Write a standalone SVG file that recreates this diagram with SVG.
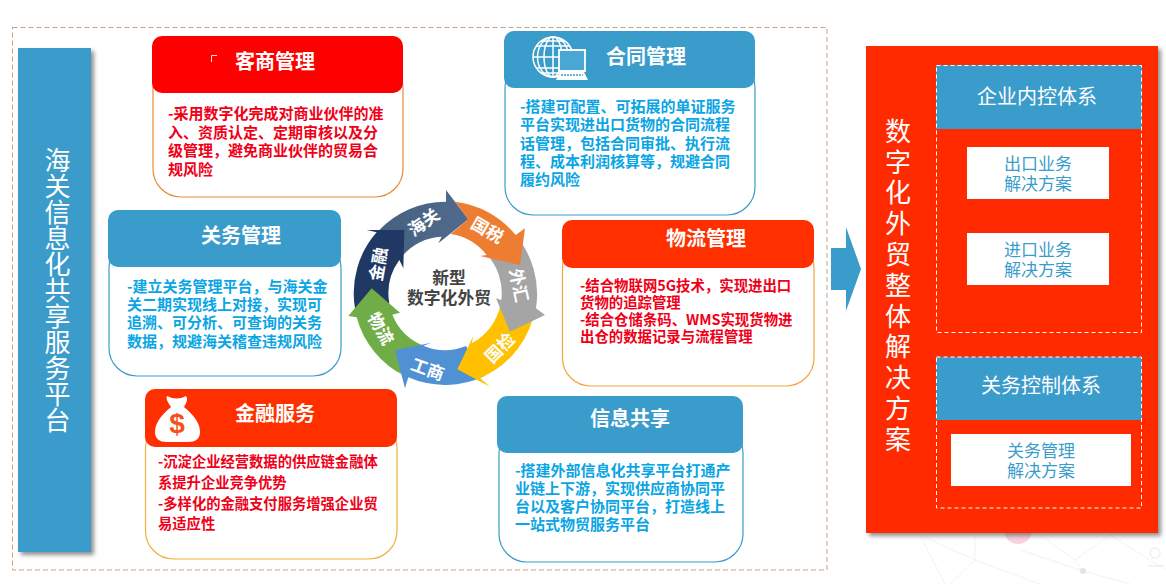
<svg xmlns="http://www.w3.org/2000/svg" width="1166" height="584" viewBox="0 0 1166 584">
<defs>
<filter id="sh" x="-10%" y="-10%" width="125%" height="125%"><feDropShadow dx="3" dy="3" stdDeviation="2" flood-color="#555" flood-opacity=".65"/></filter>
<linearGradient id="slate" x1="0" y1="0" x2="1" y2="0"><stop offset="0" stop-color="#47607f"/><stop offset="1" stop-color="#4f6b8e"/></linearGradient>
</defs>
<style>
text{font-family:"Noto Sans CJK SC","Noto Sans",sans-serif}
.hd{stroke:none}
.red{fill:#ff0000}.ora{fill:#ff2f00}.blu{fill:#3a9ccb}
.bd{fill:#fff;stroke-width:1.2}
.t{font-size:20px;font-weight:700;fill:#fff;text-anchor:middle;dominant-baseline:central}
.b{font-size:15px;font-weight:700;dominant-baseline:central}
.br{fill:#f00018}.bb{fill:#0aa5e4}
.w{font-size:17px;font-weight:700;fill:#fff;text-anchor:middle;dominant-baseline:central}
.c{font-size:16.8px;font-weight:700;fill:#444;text-anchor:middle;dominant-baseline:central}
.h{font-size:20px;fill:#fff;text-anchor:middle;dominant-baseline:central}
.s{font-size:17px;fill:#3a9ccb;text-anchor:middle;dominant-baseline:central}
.v{fill:#fff;text-anchor:start;writing-mode:vertical-rl}
.dash{fill:none;stroke:#fff;stroke-width:1;stroke-dasharray:4 3}
.wm{fill:none;stroke:#f9eff2;stroke-width:1}
</style>
<rect width="1166" height="584" fill="#fff"/>
<g id="watermark">
<path class="wm" d="M920 535L945 584M920 535L975 560L950 584M975 530L975 560L1040 584M1040 535L1075 560L1083 571L1130 584M1075 560L1110 535M1110 535L1166 570M1020 550L1083 571"/>
<circle cx="1018" cy="530" r="14" fill="#f9d2df"/>
<circle cx="1083" cy="571" r="3" fill="#e6e3e6"/>
<path d="M1150 553a5 5 0 1 1 10 0a5 5 0 1 1-10 0M1148 566h16" fill="none" stroke="#f1f0f0" stroke-width="1.5"/>
</g>
<rect id="frame" x="12.5" y="27.5" width="814.5" height="542.5" fill="none" stroke="#c8a284" stroke-width="1" stroke-dasharray="5 3"/>
<g id="platform">
<rect x="18" y="48" width="73" height="504" fill="#3a9ccb" filter="url(#sh)"/>
<text class="v" x="57.500" y="147" style="font-size:26px">海关信息化共享服务平台</text>
</g>
<g id="card-kehu">
<rect class="bd" x="153" y="60" width="250" height="137" rx="28" stroke="#e88b3c"/>
<rect class="hd red" x="152" y="36" width="251" height="57" rx="10"/>
<path d="M217 55.500H211.500V62" fill="none" stroke="#ffe0d8" stroke-width="1"/>
<text class="t" x="275" y="60.500">客商管理</text>
<text class="b br" x="168"><tspan x="168" y="111.500">-采用数字化完成对商业伙伴的准</tspan><tspan x="168" y="130.500">入、资质认定、定期审核以及分</tspan><tspan x="168" y="149">级管理，避免商业伙伴的贸易合</tspan><tspan x="168" y="167.500">规风险</tspan></text>
</g>
<g id="card-hetong">
<rect class="bd" x="505" y="60" width="250" height="155" rx="28" stroke="#3a9ccb"/>
<rect class="hd blu" x="504" y="31" width="251" height="57" rx="10"/>
<g fill="none" stroke="#fff" stroke-width="1.500">
<circle cx="553" cy="57" r="20"/><ellipse cx="553" cy="57" rx="9" ry="20"/><ellipse cx="553" cy="57" rx="15.500" ry="20"/><path d="M553 37V77M533 57H573M536 46H570M536 68H570M541 41H565M541 73H565"/>
</g>
<path d="M559 50H585V71H559Z" fill="#4aa6d2" stroke="#fff" stroke-width="1.800"/>
<path d="M560 72H584L588 80H556Z" fill="#fff"/>
<path d="M561 75H583" stroke="#3a9ccb" stroke-width="1.500" stroke-dasharray="2 1"/>
<text class="t" x="646" y="55.500">合同管理</text>
<text class="b bb" x="520"><tspan x="520" y="104.500">-搭建可配置、可拓展的单证服务</tspan><tspan x="520" y="122.500">平台实现进出口货物的合同流程</tspan><tspan x="520" y="141.500">话管理，包括合同审批、执行流</tspan><tspan x="520" y="159.500">程、成本利润核算等，规避合同</tspan><tspan x="520" y="177.500">履约风险</tspan></text>
</g>
<g id="card-guanwu">
<rect class="bd" x="109" y="240" width="232" height="136" rx="28" stroke="#3a9ccb"/>
<rect class="hd blu" x="108" y="210" width="233" height="57" rx="10"/>
<text class="t" x="241" y="234.500">关务管理</text>
<text class="b bb" x="127"><tspan x="127" y="284.500">-建立关务管理平台，与海关金</tspan><tspan x="127" y="302.500">关二期实现线上对接，实现可</tspan><tspan x="127" y="320.500">追溯、可分析、可查询的关务</tspan><tspan x="127" y="339.500">数据，规避海关稽查违规风险</tspan></text>
</g>
<g id="card-wuliu">
<rect class="bd" x="562.500" y="240" width="251.500" height="146" rx="28" stroke="#f2a73a"/>
<rect class="hd ora" x="562" y="220" width="252" height="48" rx="10"/>
<text class="t" x="706" y="237.500">物流管理</text>
<text class="b br" x="580" style="font-size:14.400px"><tspan x="580" y="283.500">-结合物联网5G技术，实现进出口</tspan><tspan x="580" y="300.500">货物的追踪管理</tspan><tspan x="580" y="317.500">-结合仓储条码、WMS实现货物进</tspan><tspan x="580" y="334.500">出仓的数据记录与流程管理</tspan></text>
</g>
<g id="card-jinrong">
<rect class="bd" x="145.500" y="420" width="251.500" height="139" rx="28" stroke="#f2b03c"/>
<rect class="hd ora" x="145" y="389" width="252" height="58" rx="10"/>
<path d="M167 396Q177 401 186 396Q189 399 184 407Q200 420 200 432Q200 442 188 442H167Q155 442 155 432Q155 420 171 407Q165 399 167 396Z" fill="#fff"/>
<text x="177" y="423" style="font-family:'Liberation Sans',sans-serif;font-size:28px;font-weight:700;fill:#f4511e;text-anchor:middle;dominant-baseline:central">$</text>
<text class="t" x="275" y="412.500">金融服务</text>
<text class="b br" x="158" style="font-size:14.300px"><tspan x="158" y="459.500">-沉淀企业经营数据的供应链金融体</tspan><tspan x="158" y="480.500">系提升企业竞争优势</tspan><tspan x="158" y="501.500">-多样化的金融支付服务增强企业贸</tspan><tspan x="158" y="521.500">易适应性</tspan></text>
</g>
<g id="card-xinxi">
<rect class="bd" x="499" y="425" width="244" height="137" rx="28" stroke="#3a9ccb"/>
<rect class="hd blu" x="497" y="396" width="246" height="57" rx="10"/>
<text class="t" x="630" y="417.500">信息共享</text>
<text class="b bb" x="515"><tspan x="515" y="468.500">-搭建外部信息化共享平台打通产</tspan><tspan x="515" y="486.500">业链上下游，实现供应商协同平</tspan><tspan x="515" y="504.500">台以及客户协同平台，打造线上</tspan><tspan x="515" y="522.500">一站式物贸服务平台</tspan></text>
</g>
<g id="wheel">
<g transform="translate(340 180) scale(.33333)">
<path fill="url(#slate)" d="M118 150A275 275 0 0 1 318 65L318 30L385 118L295 190L305 170A170 170 0 0 0 185 230Z"/>
<path fill="#203864" d="M45 385A275 275 0 0 1 110 157L80 150L193 150L190 265L178 240A170 170 0 0 0 148 370Z"/>
<path fill="#70ad47" d="M195 588A275 275 0 0 1 50 412L25 408L95 325L180 398L157 404A170 170 0 0 0 250 497Z"/>
<path fill="#5091d3" d="M435 587A275 275 0 0 1 205 592L195 625L165 510L275 488L250 497A170 170 0 0 0 378 498Z"/>
<path fill="#ffc000" d="M587 375A275 275 0 0 1 420 594L450 620L352 568L400 468L395 490A170 170 0 0 0 482 372Z"/>
<path fill="#a5a5a5" d="M525 163A275 275 0 0 1 588 385L615 405L510 455L468 355L484 360A170 170 0 0 0 435 218Z"/>
<path fill="#ed7d31" d="M345 65A275 275 0 0 1 527 165L555 145L540 255L420 228L440 225A170 170 0 0 0 332 162L385 118Z"/>
</g>
<text class="w" transform="translate(423 221) rotate(-35)">海关</text>
<text class="w" transform="translate(488 229) rotate(30)">国税</text>
<text class="w" transform="translate(520 285) rotate(78)">外汇</text>
<text class="w" transform="translate(499 347) rotate(-45)">国检</text>
<text class="w" transform="translate(428 368) rotate(20)">工商</text>
<text class="w" transform="translate(382 328) rotate(60)">物流</text>
<text class="w" transform="translate(377 264) rotate(-80)">金融</text>
<text class="c" x="449"><tspan x="449" y="276.500">新型</tspan><tspan x="449" y="296.500">数字化外贸</tspan></text>
</g>
<g id="connectors">
<path d="M831 248H846V227L861 269L846 311V290H831Z" fill="#3a9ccb"/>
</g>
<g id="solution">
<rect x="866" y="46" width="292" height="487" fill="#ff2a00" filter="url(#sh)"/>
<text class="v" x="898" y="118" style="font-size:26px;letter-spacing:4.800px">数字化外贸整体解决方案</text>
</g>
<g id="neikong">
<rect class="blu" x="936" y="65" width="206" height="64"/>
<rect class="dash" x="936.500" y="65.500" width="205" height="267"/>
<text class="h" x="1037" y="95.500">企业内控体系</text>
</g>
<g id="chukou">
<rect x="967" y="147" width="142" height="52" fill="#fff"/>
<text class="s"><tspan x="1038" y="162">出口业务</tspan><tspan x="1038" y="181.500">解决方案</tspan></text>
</g>
<g id="jinkou">
<rect x="967" y="233" width="142" height="52" fill="#fff"/>
<text class="s"><tspan x="1038" y="248">进口业务</tspan><tspan x="1038" y="267.500">解决方案</tspan></text>
</g>
<g id="guankong">
<rect class="blu" x="936" y="357" width="206" height="63"/>
<rect class="dash" x="936.500" y="357" width="205" height="151"/>
<text class="h" x="1041" y="384.500">关务控制体系</text>
</g>
<g id="guanwu-fangan">
<rect x="951" y="434" width="180" height="52" fill="#fff"/>
<text class="s"><tspan x="1041" y="448.500">关务管理</tspan><tspan x="1041" y="468.500">解决方案</tspan></text>
</g>
</svg>
